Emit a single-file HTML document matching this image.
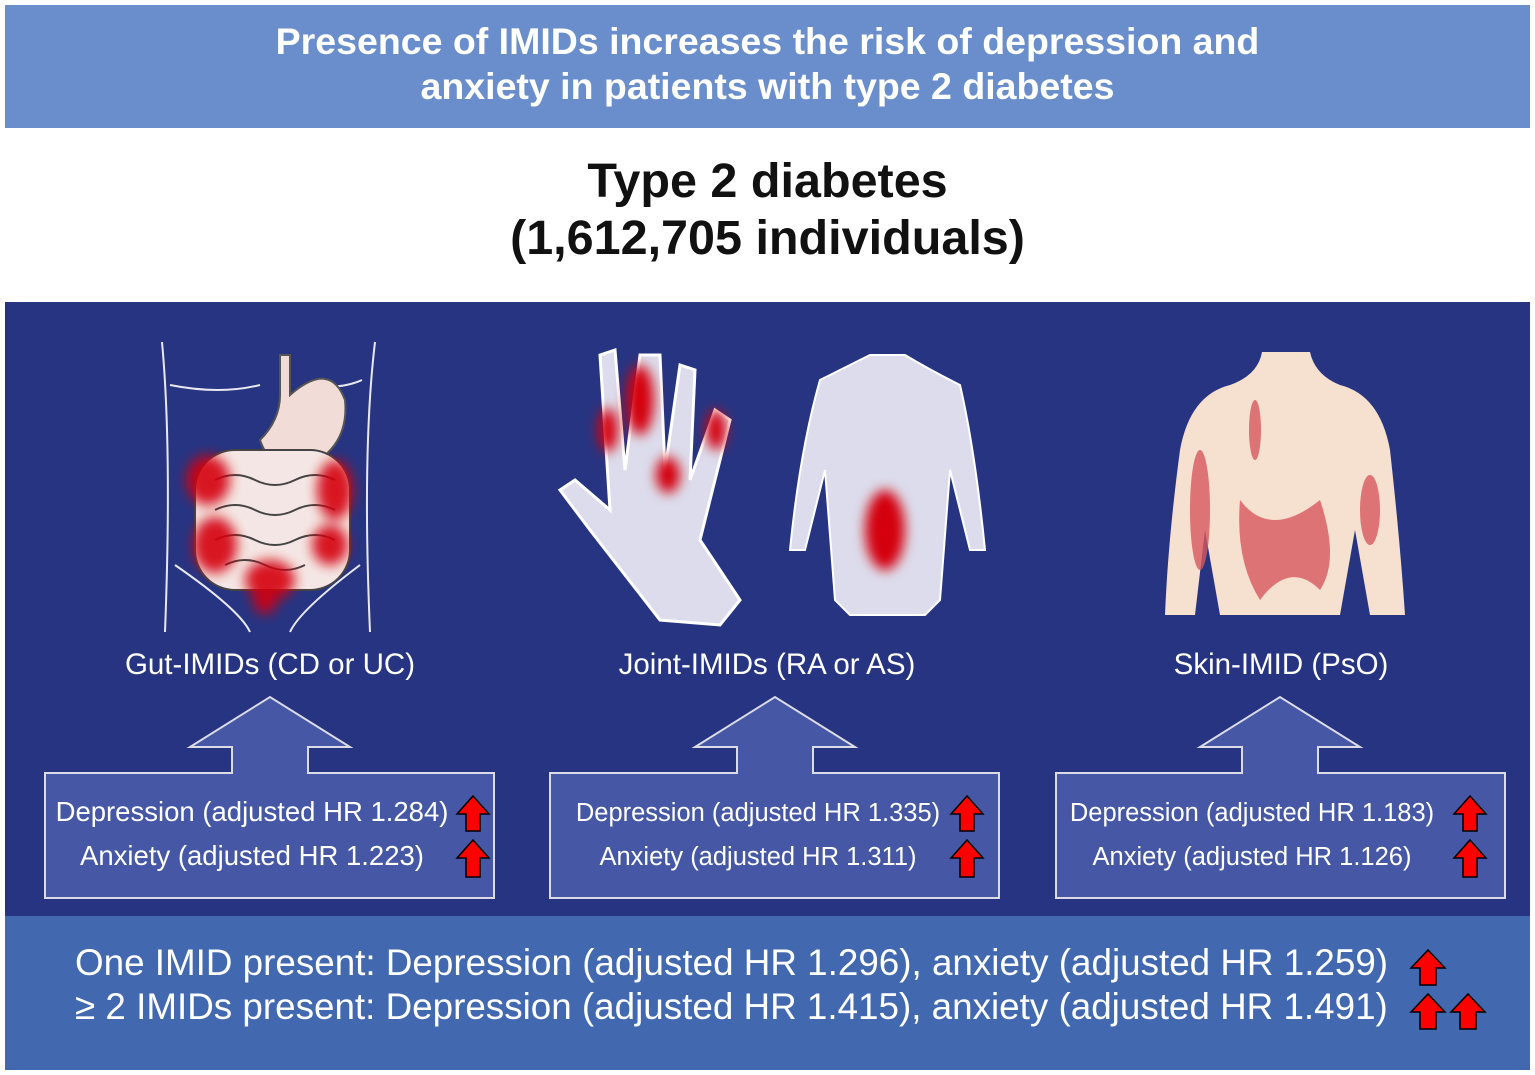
<!DOCTYPE html>
<html><head><meta charset="utf-8"><style>
body{margin:0;width:1535px;height:1075px;background:#fff;position:relative;overflow:hidden;font-family:"Liberation Sans",Arial,sans-serif}
.abs{position:absolute}
.ctr{text-align:center}
</style></head><body>
<div class="abs ctr" style="left:5px;top:5px;width:1525px;height:123px;background:#6a8ecb;color:#fff;font-weight:bold;font-size:37.5px;line-height:45px;padding-top:14px;box-sizing:border-box">Presence of IMIDs increases the risk of depression and<br>anxiety in patients with type 2 diabetes</div>
<div class="abs ctr" style="left:0;top:153px;width:1535px;font-weight:bold;font-size:48.5px;line-height:57px;color:#111">Type 2 diabetes<br>(1,612,705 individuals)</div>
<div class="abs" style="left:5px;top:302px;width:1525px;height:614px;background:#273482"></div>
<div class="abs" style="left:5px;top:916px;width:1525px;height:154px;background:#4268b0"></div>
<svg class="abs" style="left:0;top:0" width="1535" height="1075">
<defs><filter id="bl" x="-50%" y="-50%" width="200%" height="200%"><feGaussianBlur stdDeviation="6"/></filter></defs>
<g fill="none" stroke="#e8e8f0" stroke-width="2">
<path d="M162 342 Q172 450 165 632"/><path d="M375 342 Q362 450 370 632"/>
<path d="M170 385 Q220 395 260 385"/><path d="M310 385 Q340 390 362 380"/>
<path d="M175 565 Q240 610 250 632"/><path d="M360 565 Q300 610 290 632"/>
<path d="M280 355 L290 355 L290 395 Q330 360 345 400 Q350 450 300 470 Q270 470 260 440 Q280 420 280 395 Z" fill="#f2dcd8" stroke="#555"/>
<rect x="195" y="450" width="155" height="140" rx="40" fill="#f4e6e4" stroke="#444"/>
<path d="M215 480 q20 -10 40 0 q20 10 40 0 q20 -10 40 0 M215 510 q20 -10 40 0 q20 10 40 0 q20 -10 40 0 M215 540 q20 -10 40 0 q20 10 40 0 q20 -10 40 0 M225 565 q20 -10 40 0 q20 10 40 0" stroke="#444"/>
</g>
<g fill="#d40010" filter="url(#bl)" opacity="0.9">
<ellipse cx="208" cy="480" rx="22" ry="25"/><ellipse cx="215" cy="545" rx="22" ry="28"/><ellipse cx="335" cy="490" rx="18" ry="30"/><ellipse cx="330" cy="545" rx="18" ry="20"/><ellipse cx="270" cy="580" rx="25" ry="20"/><ellipse cx="265" cy="600" rx="12" ry="14"/>
</g>
<g>
<path d="M600 355 L615 350 L625 470 L640 355 L660 355 L665 470 L680 365 L695 370 L690 480 L715 410 L730 420 L700 540 L740 600 L720 625 L660 620 L590 530 L560 490 L575 480 L610 510 Z" fill="#dcdcec" stroke="#fff" stroke-width="3"/>
<g fill="#d40010" filter="url(#bl)"><ellipse cx="640" cy="400" rx="14" ry="35"/><ellipse cx="608" cy="430" rx="10" ry="22"/><ellipse cx="668" cy="475" rx="12" ry="18"/><ellipse cx="716" cy="430" rx="10" ry="20"/></g>
<path d="M820 380 Q850 365 870 355 L905 355 Q930 370 960 385 Q975 450 985 550 L970 550 L950 470 L940 600 L925 615 L850 615 L835 600 L825 470 L805 550 L790 550 Q800 450 820 380 Z" fill="#dcdcec" stroke="#fff" stroke-width="2"/>
<ellipse cx="885" cy="530" rx="20" ry="40" fill="#d40010" filter="url(#bl)"/>
</g>
<g>
<path d="M1262 352 L1310 352 Q1315 375 1340 385 Q1380 395 1390 450 Q1400 540 1405 615 L1370 615 L1355 530 L1340 615 L1220 615 L1205 530 L1195 615 L1165 615 Q1168 540 1180 450 Q1190 395 1230 385 Q1258 375 1262 352 Z" fill="#f6e0cf"/>
<g fill="#d8585e" opacity="0.8"><path d="M1240 500 Q1270 540 1320 500 Q1340 560 1320 590 Q1290 560 1260 600 Q1235 560 1240 500 Z"/><ellipse cx="1200" cy="510" rx="10" ry="60"/><ellipse cx="1370" cy="510" rx="10" ry="35"/><ellipse cx="1255" cy="430" rx="6" ry="30"/></g>
</g>
<g fill="#4657a5" stroke="#dcdce6" stroke-width="2">
<path d="M45 773 H232 V747 H190 L270 697 L350 747 H308 V773 H494 V898 H45 Z"/>
<path d="M550 773 H737 V747 H695 L775 697 L855 747 H813 V773 H999 V898 H550 Z"/>
<path d="M1056 773 H1242 V747 H1200 L1280 697 L1360 747 H1318 V773 H1505 V898 H1056 Z"/>
</g>
<g fill="#f00" stroke="#000" stroke-width="1.5">
<path d="M473 796 L489 814 L480 814 L480 831 L466 831 L466 814 L457 814 Z"/>
<path d="M473 840 L489 858 L480 858 L480 877 L466 877 L466 858 L457 858 Z"/>
<path d="M967 796 L983 814 L974 814 L974 831 L960 831 L960 814 L951 814 Z"/>
<path d="M967 840 L983 858 L974 858 L974 877 L960 877 L960 858 L951 858 Z"/>
<path d="M1470 796 L1486 814 L1477 814 L1477 831 L1463 831 L1463 814 L1454 814 Z"/>
<path d="M1470 840 L1486 858 L1477 858 L1477 877 L1463 877 L1463 858 L1454 858 Z"/>
<path d="M1428 950 L1445 968 L1436 968 L1436 985 L1420 985 L1420 968 L1411 968 Z"/>
<path d="M1428 994 L1445 1012 L1436 1012 L1436 1029 L1420 1029 L1420 1012 L1411 1012 Z"/>
<path d="M1468 994 L1485 1012 L1476 1012 L1476 1029 L1460 1029 L1460 1012 L1451 1012 Z"/>
</g>
</svg>
<div class="abs ctr" style="left:70px;top:648px;width:400px;color:#fff;font-size:29.5px">Gut-IMIDs (CD or UC)</div>
<div class="abs ctr" style="left:567px;top:648px;width:400px;color:#fff;font-size:29.5px">Joint-IMIDs (RA or AS)</div>
<div class="abs ctr" style="left:1081px;top:648px;width:400px;color:#fff;font-size:29.5px">Skin-IMID (PsO)</div>
<div class="abs ctr" style="left:2px;top:790px;width:500px;color:#fff;font-size:27.5px;line-height:44px">Depression (adjusted HR 1.284)<br>Anxiety (adjusted HR 1.223)</div>
<div class="abs ctr" style="left:508px;top:791px;width:500px;color:#fff;font-size:25.5px;line-height:44px">Depression (adjusted HR 1.335)<br>Anxiety (adjusted HR 1.311)</div>
<div class="abs ctr" style="left:1002px;top:791px;width:500px;color:#fff;font-size:25.5px;line-height:44px">Depression (adjusted HR 1.183)<br>Anxiety (adjusted HR 1.126)</div>
<div class="abs" style="left:75px;top:941px;color:#fff;font-size:36.8px;line-height:44px;white-space:nowrap">One IMID present: Depression (adjusted HR 1.296), anxiety (adjusted HR 1.259)<br>≥ 2 IMIDs present: Depression (adjusted HR 1.415), anxiety (adjusted HR 1.491)</div>
</body></html>
